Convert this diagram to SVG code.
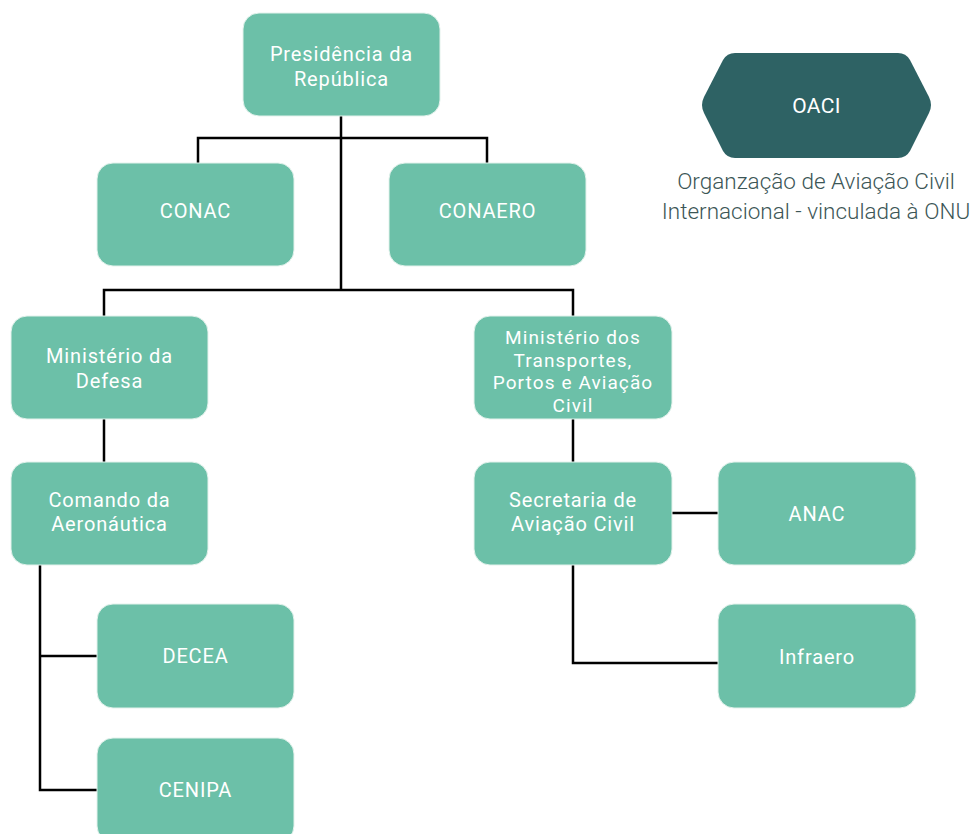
<svg xmlns="http://www.w3.org/2000/svg" width="973" height="834" viewBox="0 0 973 834">
<style>
.box{fill:#6cc0a8;stroke:#e3f2ec;stroke-width:1}
.t{fill:#ffffff;font-family:Roboto,"Liberation Sans",sans-serif;font-size:20px;text-anchor:middle;letter-spacing:0.85px}
.s{font-size:19px;letter-spacing:1.1px}
.c{fill:none;stroke:#000;stroke-width:2.5}
.cap{fill:#3c5656;font-family:Roboto,"Liberation Sans",sans-serif;font-size:22.5px;font-weight:300;text-anchor:middle}
</style>
<rect width="973" height="834" fill="#fff"/>
<g id="connectors">
<path class="c" d="M341,116V290M198,163V138H487V163M104,316V290H573V316"/>
<path class="c" d="M104,419V462M40,565V790H97M40,656H97"/>
<path class="c" d="M573,419V462M672,513H718M573,565V663H718"/>
</g>
<g id="presidencia"><rect class="box" x="243" y="13" width="197" height="103" rx="16"/><text class="t" x="341.5" y="61">Presidência da</text><text class="t" x="341.5" y="86">República</text></g>
<g id="conac"><rect class="box" x="97" y="163" width="197" height="103" rx="16"/><text class="t" x="195.5" y="218">CONAC</text></g>
<g id="conaero"><rect class="box" x="389" y="163" width="197" height="103" rx="16"/><text class="t" x="487.5" y="218">CONAERO</text></g>
<g id="defesa"><rect class="box" x="11" y="316" width="197" height="103" rx="16"/><text class="t" x="109.5" y="363">Ministério da</text><text class="t" x="109.5" y="388">Defesa</text></g>
<g id="comando"><rect class="box" x="11" y="462" width="197" height="103" rx="16"/><text class="t" x="109.5" y="507">Comando da</text><text class="t" x="109.5" y="531">Aeronáutica</text></g>
<g id="decea"><rect class="box" x="97" y="604" width="197" height="104" rx="16"/><text class="t" x="195.5" y="663">DECEA</text></g>
<g id="cenipa"><rect class="box" x="97" y="738" width="197" height="104" rx="16"/><text class="t" x="195.5" y="797">CENIPA</text></g>
<g id="transportes"><rect class="box" x="474" y="316" width="198" height="103" rx="16"/><text class="t s" x="573" y="344">Ministério dos</text><text class="t s" x="573" y="366.5">Transportes,</text><text class="t s" x="573" y="389">Portos e Aviação</text><text class="t s" x="573" y="411.5">Civil</text></g>
<g id="secretaria"><rect class="box" x="474" y="462" width="198" height="103" rx="16"/><text class="t" x="573" y="507">Secretaria de</text><text class="t" x="573" y="531">Aviação Civil</text></g>
<g id="anac"><rect class="box" x="718" y="462" width="198" height="103" rx="16"/><text class="t" x="817" y="521">ANAC</text></g>
<g id="infraero"><rect class="box" x="718" y="604" width="198" height="104" rx="16"/><text class="t" x="817" y="664">Infraero</text></g>
<g id="oaci">
<path d="M735,53H898Q906,53 910,60L929,97Q933,105 929,113L910,151Q906,158 898,158H735Q727,158 723,151L704,113Q700,105 704,97L723,60Q727,53 735,53Z" fill="#2e6264"/>
<text class="t" x="816.5" y="113" style="font-size:21px;letter-spacing:0.3px">OACI</text>
<text class="cap" x="816" y="189">Organzação de Aviação Civil</text>
<text class="cap" x="816" y="219">Internacional - vinculada à ONU</text>
</g>
</svg>
